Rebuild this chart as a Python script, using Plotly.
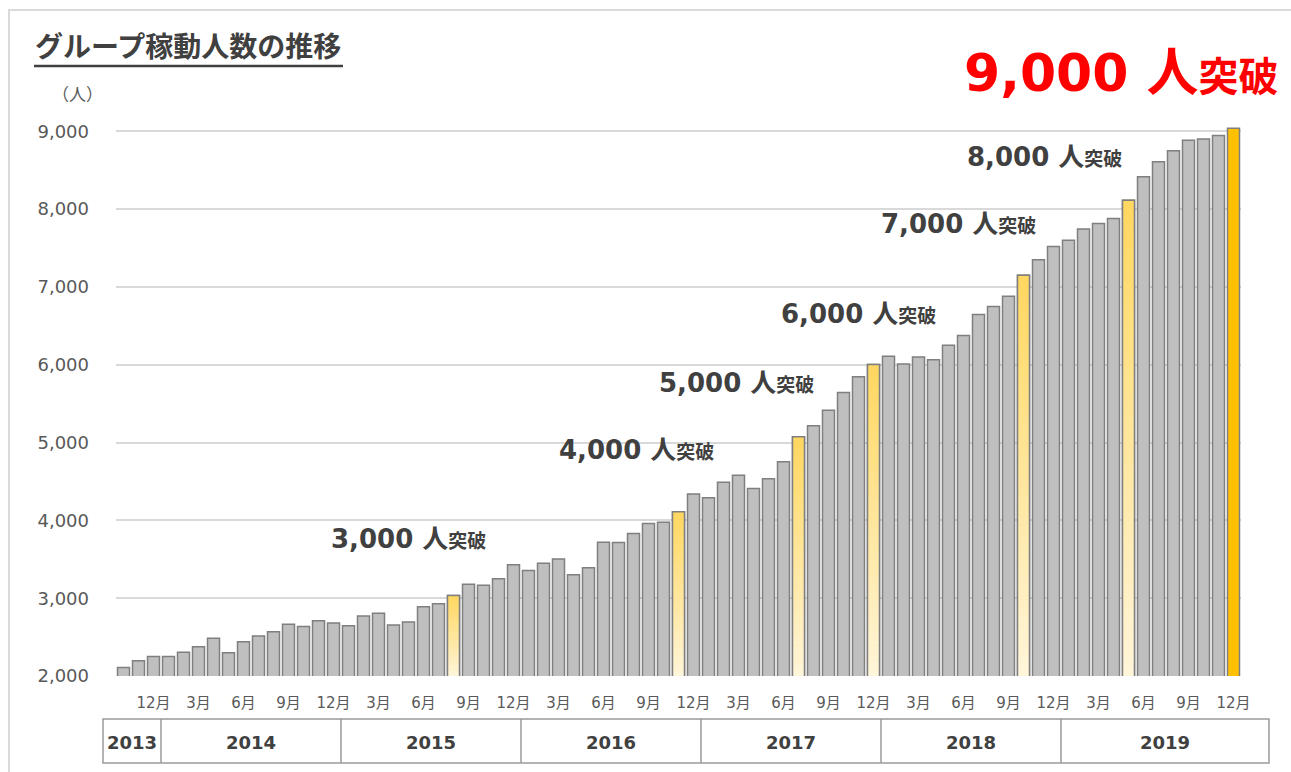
import plotly.graph_objects as go

# ---------------- data ----------------
start_year, start_month = 2013, 10
end_year, end_month = 2019, 12
categories = []
y_, m_ = start_year, start_month
while (y_, m_) <= (end_year, end_month):
    categories.append(f"{y_}-{m_:02d}")
    m_ += 1
    if m_ > 12:
        m_, y_ = 1, y_ + 1

values = [
    2110, 2195, 2250,                                                   # 2013 Oct-Dec
    2250, 2305, 2375, 2485, 2300, 2440, 2515, 2570, 2665, 2635, 2710, 2680,  # 2014
    2645, 2770, 2805, 2655, 2695, 2890, 2930, 3035, 3180, 3165, 3250, 3430,  # 2015
    3355, 3450, 3505, 3300, 3390, 3720, 3715, 3830, 3960, 3975, 4110, 4340,  # 2016
    4290, 4490, 4580, 4410, 4535, 4755, 5075, 5215, 5415, 5645, 5845, 6005,  # 2017
    6110, 6010, 6100, 6065, 6250, 6375, 6645, 6750, 6880, 7150, 7350, 7520,  # 2018
    7600, 7745, 7815, 7880, 8115, 8415, 8610, 8750, 8885, 8900, 8945, 9040,  # 2019
]

milestones = [3000, 4000, 5000, 6000, 7000, 8000, 9000]
tick_months = [12, 3, 6, 9]
years = ["2013", "2014", "2015", "2016", "2017", "2018", "2019"]
y_ticks = [2000, 3000, 4000, 5000, 6000, 7000, 8000, 9000]

title_text = "グループ稼動人数の推移"
unit_text = "（人）"
headline_text = "9,000 人突破"

# ---------------- layout geometry ----------------
W, H = 1291, 772
L, R, T, B = 116, 50, 108, 96
pw, ph = W - L - R, H - T - B
n = len(categories)
slot = pw / n
Y0, Y1 = 2000, 9300


def px(x):
    return (x - L) / pw


def py(y):
    return (H - B - y) / ph


GRAY = "#BFBFBF"
EDGE = "#7F7F7F"
GOLD = "#FFC000"
TXT = "#404040"
AX = "#595959"
NUM_FONT = "DejaVu Sans, Noto Sans CJK JP"
BAR_W = 0.8

# milestone bars: first month reaching each threshold
hi_idx = []
for th in milestones:
    for i, v in enumerate(values):
        if v >= th:
            hi_idx.append(i)
            break
last_idx = hi_idx[-1]
grad_idx = hi_idx[:-1]

colors = [GRAY] * n
for i in grad_idx:
    colors[i] = "#FFE699"
colors[last_idx] = GOLD

fig = go.Figure()
fig.add_trace(go.Bar(
    x=categories, y=values, width=BAR_W,
    marker=dict(color=colors, line=dict(color=EDGE, width=1.5)),
    hoverinfo="x+y", showlegend=False,
))

# gradient fill for milestone bars
K = 40
top_c = (255, 215, 95)
bot_c = (255, 245, 218)
gx = [categories[i] for i in grad_idx]
for k in range(K):
    t = (k + 0.5) / K
    c = tuple(round(bot_c[j] + (top_c[j] - bot_c[j]) * t) for j in range(3))
    col = f"rgb{c}"
    fig.add_trace(go.Bar(
        x=gx,
        y=[(values[i] - Y0) / K for i in grad_idx],
        base=[Y0 + (values[i] - Y0) * k / K for i in grad_idx],
        width=BAR_W,
        marker=dict(color=col, line=dict(color=col, width=0.6)),
        hoverinfo="skip", showlegend=False,
    ))
fig.add_trace(go.Bar(
    x=gx, y=[values[i] for i in grad_idx], width=BAR_W,
    marker=dict(color="rgba(0,0,0,0)", line=dict(color=EDGE, width=1.5)),
    hoverinfo="skip", showlegend=False,
))

tickvals = [c for c in categories if int(c[5:]) in tick_months]
ticktext = [f"{int(c[5:])}月" for c in tickvals]

shapes = []
annotations = []

# outer frame (left + top)
shapes.append(dict(type="path", xref="paper", yref="paper",
                   path=f"M {px(9)} {py(772)} L {px(9)} {py(10)} L {px(1291)} {py(10)}",
                   line=dict(color="#D9D9D9", width=2)))

# title + underline
annotations.append(dict(text=f"<b>{title_text}</b>", xref="paper", yref="paper",
                        x=px(33), y=py(45), xanchor="left", yanchor="middle",
                        showarrow=False,
                        font=dict(family="Noto Sans CJK JP", size=28, color=TXT)))
shapes.append(dict(type="line", xref="paper", yref="paper",
                   x0=px(34), x1=px(343), y0=py(66), y1=py(66),
                   line=dict(color=TXT, width=2.5)))

annotations.append(dict(text=unit_text, xref="paper", yref="paper",
                        x=px(77), y=py(94), xanchor="center", yanchor="middle",
                        showarrow=False,
                        font=dict(family="Noto Sans CJK JP", size=17, color=AX)))

# headline
annotations.append(dict(
    text=f"<b>{headline_text[:-2]}</b><span style='font-size:40px'><b>{headline_text[-2:]}</b></span>",
    xref="paper", yref="paper", x=px(1281), y=py(73), xanchor="right", yanchor="middle",
    showarrow=False, font=dict(family=NUM_FONT, size=52, color="#FF0000")))

# milestone labels
label_pos = [(488, 539), (716, 450), (816, 383), (938, 314), (1038, 224), (1124, 157)]
for th, (lx, ly) in zip(milestones[:-1], label_pos):
    annotations.append(dict(
        text=f"<b>{th:,} 人</b><span style='font-size:19px'><b>突破</b></span>",
        xref="paper", yref="paper", x=px(lx), y=py(ly), xanchor="right", yanchor="middle",
        showarrow=False, font=dict(family=NUM_FONT, size=26, color=TXT)))

# year table
tab_l, tab_r, tab_t, tab_b = 103, 1269, 719, 763
shapes.append(dict(type="rect", xref="paper", yref="paper",
                   x0=px(tab_l), x1=px(tab_r), y0=py(tab_b), y1=py(tab_t),
                   line=dict(color="#9A9A9A", width=1.5)))
bounds = [tab_l]
for yr in years[1:]:
    j = categories.index(f"{yr}-01")
    bx = L + j * slot
    bounds.append(bx)
    shapes.append(dict(type="line", xref="paper", yref="paper",
                       x0=px(bx), x1=px(bx), y0=py(tab_b), y1=py(tab_t),
                       line=dict(color="#9A9A9A", width=1.5)))
bounds.append(tab_r)
for k, yr in enumerate(years):
    cx = (bounds[k] + bounds[k + 1]) / 2
    annotations.append(dict(text=f"<b>{yr}</b>", xref="paper", yref="paper",
                            x=px(cx), y=py(742), xanchor="center", yanchor="middle",
                            showarrow=False,
                            font=dict(family=NUM_FONT, size=18, color=TXT)))

fig.update_layout(
    width=W, height=H,
    margin=dict(l=L, r=R, t=T, b=B, autoexpand=False),
    paper_bgcolor="white", plot_bgcolor="white",
    barmode="overlay",
    showlegend=False,
    shapes=shapes,
    annotations=annotations,
    xaxis=dict(type="category", categoryorder="array", categoryarray=categories,
               range=[-0.5, n - 0.5], tickvals=tickvals, ticktext=ticktext,
               showgrid=False, showline=False, zeroline=False, ticks="",
               ticklabelstandoff=16,
               tickfont=dict(family=NUM_FONT, size=15, color=AX)),
    yaxis=dict(range=[Y0, Y1], tickvals=y_ticks, tickformat=",d",
               showgrid=True, gridcolor="#D9D9D9", gridwidth=1.5,
               zeroline=False, showline=False, ticks="",
               ticklabelstandoff=26,
               tickfont=dict(family=NUM_FONT, size=18, color=AX)),
)

fig.write_html("out.html", config={"displayModeBar": False},
               post_script="document.body.style.margin='0';")
